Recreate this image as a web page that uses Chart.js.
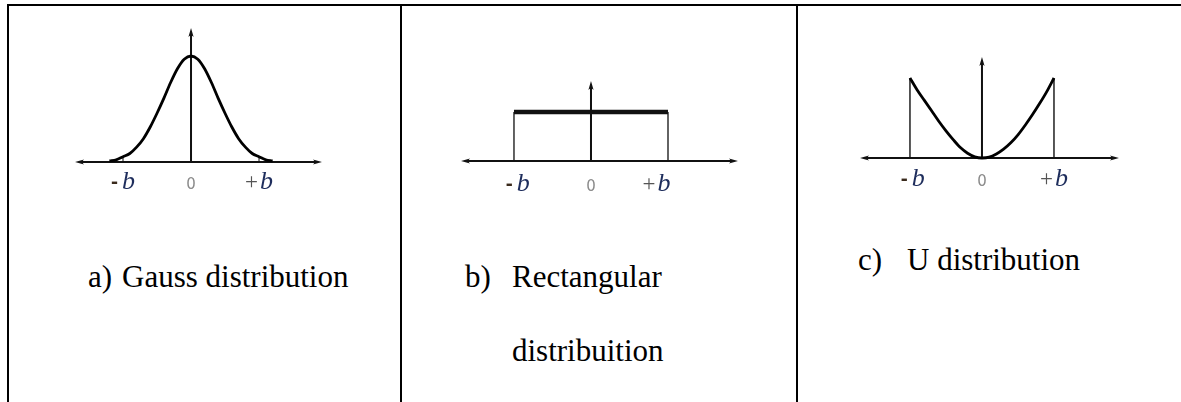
<!DOCTYPE html>
<html>
<head>
<meta charset="utf-8">
<script src="https://cdn.jsdelivr.net/npm/chart.js@4/dist/chart.umd.min.js"></script>
<style>
  html, body { margin: 0; padding: 0; background: #fff; }
  #page { position: relative; width: 1181px; height: 402px; overflow: hidden; }
  .rule { position: absolute; background: #000; }
  canvas { position: absolute; }
  .cap {
    position: absolute; font-family: "Liberation Serif", "Times New Roman", serif;
    font-size: 31px; line-height: 31px; color: #000; white-space: nowrap;
  }
</style>
</head>
<body>
<div id="page">
  <div class="rule" style="left:7px; top:4px; width:1174px; height:2px"></div>
  <div class="rule" style="left:7px; top:4px; width:2px; height:398px"></div>
  <div class="rule" style="left:400px; top:4px; width:2px; height:398px"></div>
  <div class="rule" style="left:796px; top:4px; width:2px; height:398px"></div>

  <canvas id="chart-gauss" width="267" height="184" style="left:65px; top:18px"></canvas>
  <canvas id="chart-rect" width="297" height="130" style="left:451px; top:71px"></canvas>
  <canvas id="chart-u" width="279" height="151" style="left:850px; top:47px"></canvas>

  <div class="cap" style="left:88px; top:261px">a)</div>
  <div class="cap" style="left:122px; top:261px">Gauss distribution</div>
  <div class="cap" style="left:465px; top:261px">b)</div>
  <div class="cap" style="left:512px; top:261px">Rectangular</div>
  <div class="cap" style="left:512px; top:335px">distribuition</div>
  <div class="cap" style="left:858px; top:244px">c)</div>
  <div class="cap" style="left:907px; top:244px">U distribution</div>
</div>
<script>
// x in units of b, y relative to the curve maximum
const gaussX = [-1.2, -1.1, -1.0, -0.9, -0.8, -0.7, -0.6, -0.5, -0.4, -0.3, -0.2, -0.1, 0,
                0.1, 0.2, 0.3, 0.4, 0.5, 0.6, 0.7, 0.8, 0.9, 1.0, 1.1, 1.2];
const gaussY = [0.01, 0.02, 0.05, 0.08, 0.14, 0.22, 0.33, 0.46, 0.60, 0.75, 0.88, 0.97, 1.0,
                0.97, 0.88, 0.75, 0.60, 0.46, 0.33, 0.22, 0.14, 0.08, 0.05, 0.02, 0.01];
const gaussMarkX = [-1, 1];
const gaussMarkY = [0.05, 0.05];

const rectX = [-1, 1];
const rectY = [1, 1];

const uX = [-1.0, -0.9, -0.8, -0.7, -0.6, -0.5, -0.4, -0.3, -0.2, -0.1, 0,
            0.1, 0.2, 0.3, 0.4, 0.5, 0.6, 0.7, 0.8, 0.9, 1.0];
const uY = [1.0, 0.85, 0.72, 0.59, 0.46, 0.34, 0.23, 0.13, 0.06, 0.015, 0,
            0.01, 0.05, 0.11, 0.19, 0.29, 0.41, 0.54, 0.68, 0.83, 1.0];
const uMarkX = [-1, 1];
const uMarkY = [1, 1];

const tickLabels = ['-b', '0', '+b'];
const gaussTicks = [-1, 0, 1];
const rectTicks = [-0.95, 0, 0.85];
const uTicks = [-0.96, 0, 1];

const pts = (xs, ys) => xs.map((x, i) => ({x: x, y: ys[i]}));
// one vertical segment from the axis up to y for each x
const stems = (xs, ys) => {
  let out = [];
  xs.forEach((x, i) => { out.push({x: x, y: 0}, {x: x, y: ys[i]}, {x: NaN, y: NaN}); });
  return out;
};

function arrow(ctx, x, y, dx, dy) {
  const len = 9, half = 2.6;
  const px = -dy, py = dx;
  ctx.beginPath();
  ctx.moveTo(x, y);
  ctx.lineTo(x - dx * len + px * half, y - dy * len + py * half);
  ctx.lineTo(x - dx * len * 0.75, y - dy * len * 0.75);
  ctx.lineTo(x - dx * len - px * half, y - dy * len - py * half);
  ctx.closePath();
  ctx.fill();
}

const arrowAxes = {
  id: 'arrowAxes',
  beforeDatasetsDraw(chart) {
    const {ctx, chartArea, scales} = chart;
    const y0 = scales.y.getPixelForValue(0);
    const x0 = scales.x.getPixelForValue(0);
    ctx.save();
    ctx.strokeStyle = '#111';
    ctx.fillStyle = '#111';
    ctx.lineWidth = 2;
    ctx.beginPath();
    ctx.moveTo(chartArea.left + 4, y0);
    ctx.lineTo(chartArea.right - 4, y0);
    ctx.moveTo(x0, y0);
    ctx.lineTo(x0, chartArea.top + 4);
    ctx.stroke();
    arrow(ctx, chartArea.right, y0, 1, 0);
    arrow(ctx, chartArea.left, y0, -1, 0);
    arrow(ctx, x0, chartArea.top, 0, -1);
    ctx.restore();
  }
};

// tick labels: sign in plain type, b in italic serif
const signLabels = {
  id: 'signLabels',
  afterDraw(chart, args, opts) {
    const {ctx, scales} = chart;
    const base = scales.y.getPixelForValue(0) + opts.offset;
    ctx.save();
    ctx.textBaseline = 'alphabetic';
    opts.ticks.forEach((v, i) => {
      const cx = scales.x.getPixelForValue(v);
      const text = opts.labels[i];
      if (text === '0') {
        ctx.font = '15px "DejaVu Sans", sans-serif';
        ctx.fillStyle = '#8a8a8a';
        ctx.textAlign = 'center';
        ctx.fillText('0', cx, base);
        return;
      }
      const sign = text[0];
      const signFont = sign === '-' ? 'bold 21px "Liberation Sans", sans-serif' : '23px "Liberation Serif", serif';
      const bFont = 'italic 26px "Liberation Serif", serif';
      ctx.font = signFont;
      const sw = ctx.measureText(sign).width;
      ctx.font = bFont;
      const bw = ctx.measureText('b').width;
      const gap = sign === '-' ? 4 : 2;
      let x = cx - (sw + gap + bw) / 2;
      ctx.textAlign = 'left';
      ctx.font = signFont;
      ctx.fillStyle = sign === '-' ? '#3a2a1c' : '#555';
      ctx.fillText(sign, x, base - (sign === '-' ? 1 : 0));
      ctx.font = bFont;
      ctx.fillStyle = '#1e2d5c';
      ctx.fillText('b', x + sw + gap, base);
    });
    ctx.restore();
  }
};

function panel(id, datasets, xr, yMax, ticks, offset) {
  return new Chart(document.getElementById(id), {
    type: 'line',
    data: { datasets: datasets },
    options: {
      responsive: false,
      animation: false,
      devicePixelRatio: 1,
      layout: { padding: { left: 10, right: 10, top: 10, bottom: 40 } },
      scales: {
        x: { type: 'linear', min: xr[0], max: xr[1], display: false },
        y: { type: 'linear', min: 0, max: yMax, display: false }
      },
      elements: { point: { radius: 0 } },
      plugins: {
        legend: { display: false },
        tooltip: { enabled: false },
        signLabels: { ticks: ticks, labels: tickLabels, offset: offset }
      }
    },
    plugins: [arrowAxes, signLabels]
  });
}

const curve = (data, width) => ({
  data: data, borderColor: '#000', borderWidth: width, fill: false,
  cubicInterpolationMode: 'monotone', clip: false, spanGaps: false
});
const segs = (data, width) => ({
  data: data, borderColor: '#111', borderWidth: width, fill: false,
  tension: 0, clip: false, spanGaps: false
});

panel('chart-gauss', [
  curve(pts(gaussX, gaussY), 2.8),
  segs(stems(gaussMarkX, gaussMarkY), 1)
], [-1.706, 1.926], 1.264, gaussTicks, 27);

panel('chart-rect', [
  segs(pts(rectX, rectY), 4.5),
  segs(stems(rectX, rectY), 1.3)
], [-1.688, 1.909], 1.633, rectTicks, 30);

panel('chart-u', [
  curve(pts(uX, uY), 2.8),
  segs(stems(uMarkX, uMarkY), 1.4)
], [-1.694, 1.903], 1.2625, uTicks, 28);
</script>
</body>
</html>
